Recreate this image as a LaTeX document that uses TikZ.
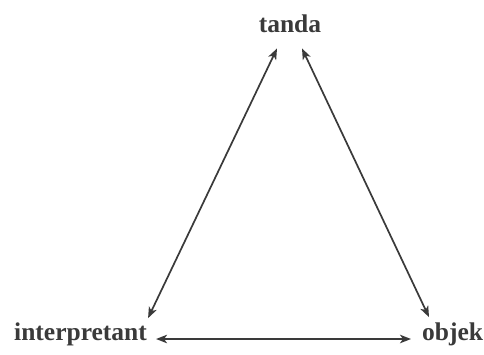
\documentclass[tikz,border=0pt]{standalone}
\usepackage{fontspec}
\setmainfont{Liberation Serif}
\usetikzlibrary{arrows.meta}
\definecolor{inkgray}{HTML}{3A3A3A}

\begin{document}
\begin{tikzpicture}[
  x=1pt, y=-1pt,
  every node/.style={font=\fontsize{25.5}{30}\selectfont\bfseries, text=inkgray, inner sep=0pt},
  flow/.style={{Stealth[length=11pt,width=8.5pt,inset=3pt]}-{Stealth[length=11pt,width=8.5pt,inset=3pt]}, line width=1.7pt, draw=inkgray}
]
\useasboundingbox[fill=white] (0,0) rectangle (484,354);
\node[anchor=base] (tanda) at (290,32) {tanda};
\node[anchor=base west] (interpretant) at (14,340) {interpretant};
\node[anchor=base west] (objek) at (422,340) {objek};

\draw[flow] ([xshift=-13pt,yshift=-16pt]tanda.south) -- ([xshift=1pt,yshift=4pt]interpretant.north east);
\draw[flow] ([xshift=12pt,yshift=-16pt]tanda.south) -- ([xshift=7pt,yshift=5pt]objek.north west);
\draw[flow] ([xshift=9pt,yshift=1pt]interpretant.base east) -- ([xshift=-11pt,yshift=1pt]objek.base west);
\end{tikzpicture}
\end{document}
